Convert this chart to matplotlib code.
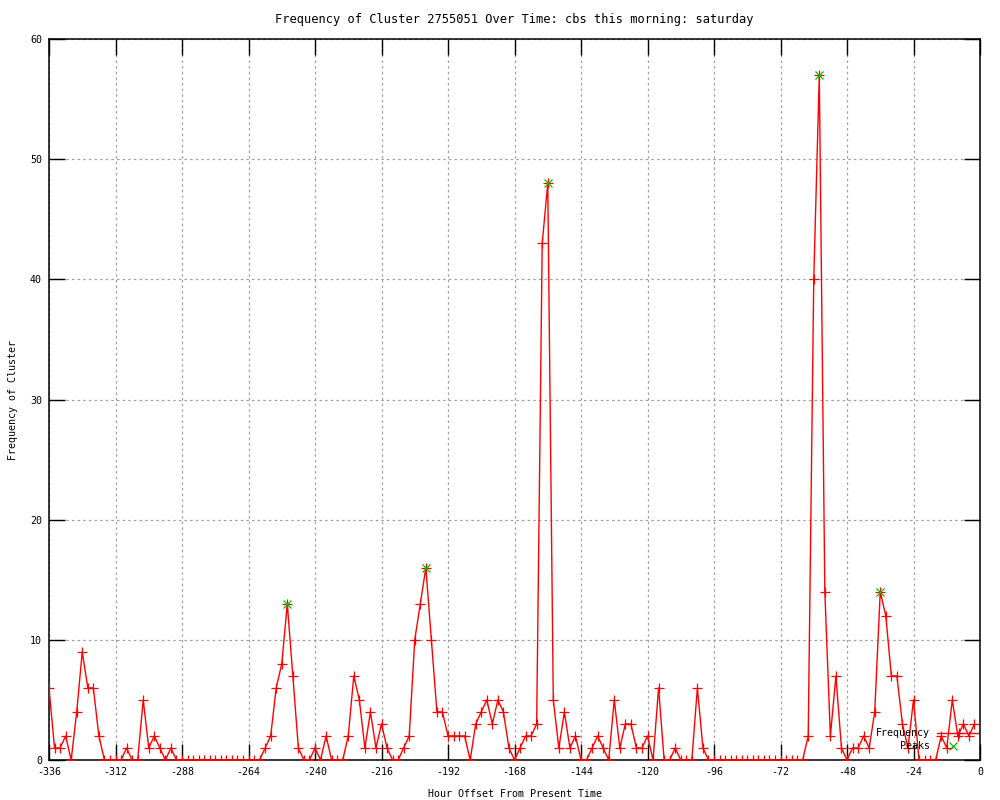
import numpy as np
import matplotlib
matplotlib.use('Agg')
import matplotlib.pyplot as plt
from matplotlib.lines import Line2D

# hour offsets, one sample every 2 hours
hours = list(range(-336, 0, 2))

freq = [6, 1, 1, 2, 0, 4, 9, 6, 6, 2,
        0, 0, 0, 0, 1, 0, 0, 5, 1, 2,
        1, 0, 1, 0, 0, 0, 0, 0, 0, 0,
        0, 0, 0, 0, 0, 0, 0, 0, 0, 1,
        2, 6, 8, 13, 7, 1, 0, 0, 1, 0,
        2, 0, 0, 0, 2, 7, 5, 1, 4, 1,
        3, 1, 0, 0, 1, 2, 10, 13, 16, 10,
        4, 4, 2, 2, 2, 2, 0, 3, 4, 5,
        3, 5, 4, 1, 0, 1, 2, 2, 3, 43,
        48, 5, 1, 4, 1, 2, 0, 0, 1, 2,
        1, 0, 5, 1, 3, 3, 1, 1, 2, 0,
        6, 0, 0, 1, 0, 0, 0, 6, 1, 0,
        0, 0, 0, 0, 0, 0, 0, 0, 0, 0,
        0, 0, 0, 0, 0, 0, 0, 2, 40, 57,
        14, 2, 7, 1, 0, 1, 1, 2, 1, 4,
        14, 12, 7, 7, 3, 1, 5, 0, 0, 0,
        0, 2, 1, 5, 2, 3, 2, 3]

peak_hours = [-250, -200, -156, -58, -36]
peak_vals = [13, 16, 48, 57, 14]

x_ticks = list(range(-336, 1, 24))
y_ticks = list(range(0, 61, 10))

title = 'Frequency of Cluster 2755051 Over Time: cbs this morning: saturday'

plt.rcParams.update({'font.family': 'DejaVu Sans Mono',
                     'font.size': 7.2,
                     'axes.unicode_minus': False})

fig = plt.figure(figsize=(10, 8), dpi=100)
ax = fig.add_axes([0.049, 0.05, 0.931, 0.901])

ax.plot(hours, freq, c='#ff0000', lw=1.0, marker='+', ms=7, mew=0.9,
        zorder=3)
ax.plot(peak_hours, peak_vals, ls='none', marker='x', c='#00c000',
        ms=5.5, mew=0.9, zorder=4)

ax.set_xlim(-336, 0)
ax.set_ylim(0, 60)
ax.set_xticks(x_ticks)
ax.set_yticks(y_ticks)
ax.grid(True, color='#a0a0a0', lw=0.9, ls=(0, (2, 2.5)))
ax.tick_params(direction='in', length=11.5, width=1, top=True, right=True,
               pad=5, colors='k')
for s in ax.spines.values():
    s.set_linewidth(1.1)

ax.set_title(title, pad=12)
ax.set_xlabel('Hour Offset From Present Time', labelpad=9)
ax.set_ylabel('Frequency of Cluster', labelpad=9)

# key, bottom right like gnuplot
ax.text(0.946, 0.037, 'Frequency', ha='right', va='center',
        transform=ax.transAxes)
ax.text(0.946, 0.019, 'Peaks', ha='right', va='center',
        transform=ax.transAxes)
ax.add_line(Line2D([0.954, 1.0], [0.037, 0.037], c='#ff0000', lw=1.0,
                   transform=ax.transAxes))
ax.add_line(Line2D([0.977], [0.037], c='#ff0000', marker='+', ms=7,
                   mew=0.9, transform=ax.transAxes))
ax.add_line(Line2D([0.971], [0.019], c='#00c000', marker='x', ms=5.5,
                   mew=0.9, ls='none', transform=ax.transAxes))

fig.savefig('out.png', dpi=100)
